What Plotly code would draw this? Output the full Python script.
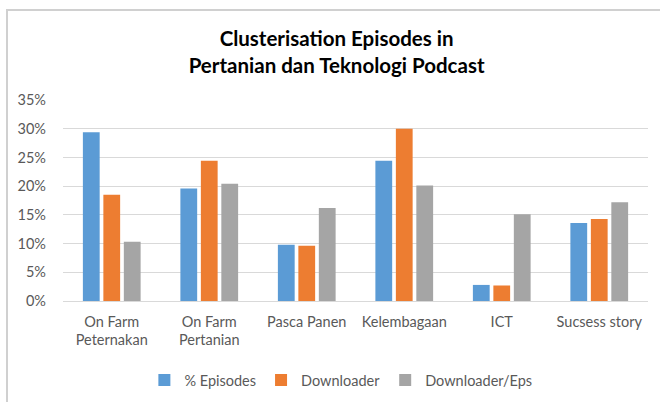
import plotly.graph_objects as go

categories = ["On Farm<br>Peternakan", "On Farm<br>Pertanian", "Pasca Panen", "Kelembagaan", "ICT", "Sucsess story"]
episodes = [0.294, 0.196, 0.098, 0.244, 0.028, 0.136]
downloader = [0.185, 0.244, 0.096, 0.300, 0.027, 0.143]
downloader_eps = [0.103, 0.204, 0.162, 0.201, 0.151, 0.172]
series_names = ["% Episodes", "Downloader", "Downloader/Eps"]
colors = ["#5B9BD5", "#ED7D31", "#A5A5A5"]
yticks = [0, 0.05, 0.10, 0.15, 0.20, 0.25, 0.30, 0.35]

W, H = 660, 402
L, R, T, B = 63, 12, 100, 101
FONT = "Lato, 'Open Sans', sans-serif"

fig = go.Figure()
for name, vals, c in zip(series_names, [episodes, downloader, downloader_eps], colors):
    fig.add_trace(go.Bar(x=categories, y=vals, name=name, marker=dict(color=c, line=dict(width=0))))

pw = W - L - R
ph = H - T - B
fig.update_layout(
    width=W, height=H,
    margin=dict(l=L, r=R, t=T, b=B, pad=0, autoexpand=False),
    paper_bgcolor="white", plot_bgcolor="white",
    barmode="group", bargap=0.37, bargroupgap=0.18,
    font=dict(family=FONT, size=14.5, color="#595959"),
    title=dict(text="<b>Clusterisation Episodes in<br>Pertanian dan Teknologi Podcast</b>",
               x=0.51, xanchor="center", y=1 - 46 / H, yanchor="top",
               font=dict(family=FONT, size=20.5, color="#000000")),
    xaxis=dict(showgrid=False, showline=False, ticks="", ticklabelstandoff=10,
               tickfont=dict(size=14.5, color="#595959")),
    yaxis=dict(range=[0, 0.35], tickvals=yticks, tickformat=".0%", showgrid=True,
               gridcolor="#D9D9D9", gridwidth=1, zeroline=True, zerolinecolor="#D9D9D9",
               zerolinewidth=1, ticks="", ticklabelstandoff=16, tickfont=dict(size=14.5, color="#595959")),
    legend=dict(orientation="h", x=0.475, xanchor="center", y=-(364 - (H - B)) / ph, yanchor="top",
                font=dict(size=14.5, color="#595959"), itemwidth=30, traceorder="normal"),
    showlegend=True,
)
# chart border (extends past the right and bottom of the view)
fig.add_shape(type="rect", xref="paper", yref="paper",
              x0=(7 - L) / pw, x1=(W + 20 - L) / pw,
              y0=-(H + 20 - (H - B)) / ph, y1=((H - B) - 10) / ph,
              line=dict(color="#D0D0D0", width=2), fillcolor="rgba(0,0,0,0)", layer="below")

fig.write_html("out.html", config={"displayModeBar": False},
               post_script="document.body.style.margin='0';document.body.style.overflow='hidden';")
